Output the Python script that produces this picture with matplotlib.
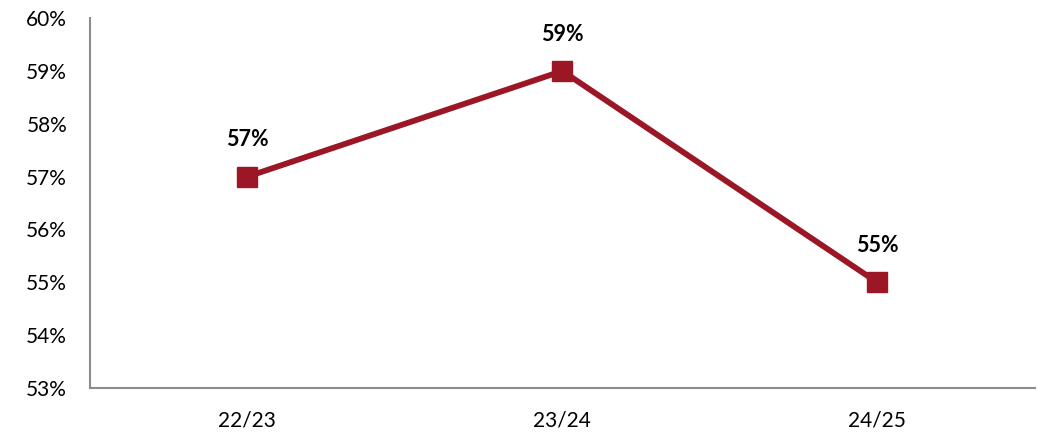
import matplotlib.pyplot as plt
from matplotlib.ticker import FuncFormatter

seasons = ["22/23", "23/24", "24/25"]
share = [57, 59, 55]
y_ticks = [53, 54, 55, 56, 57, 58, 59, 60]

LINE_COLOR = "#9B1726"
AXIS_COLOR = "#8C8C8C"

plt.rcParams["font.family"] = ["Lato", "DejaVu Sans"]


def main():
    fig = plt.figure(figsize=(10.38, 4.33), dpi=100)
    ax = fig.add_axes([0.0867, 0.104, 0.910, 0.854])

    x = list(range(len(seasons)))
    ax.plot(x, share, color=LINE_COLOR, linewidth=4.2, marker="s",
            markersize=15, markerfacecolor=LINE_COLOR,
            markeredgecolor=LINE_COLOR, solid_joinstyle="miter")

    for xi, v in zip(x, share):
        ax.annotate(f"{v}%", (xi, v), xytext=(0, 19),
                    textcoords="offset points", ha="center", va="bottom",
                    fontsize=15.5, fontweight="bold", color="black")

    ax.set_xlim(-0.5, 2.5)
    ax.set_ylim(53, 60)
    ax.set_xticks(x)
    ax.set_xticklabels(seasons)
    ax.set_yticks(y_ticks)
    ax.yaxis.set_major_formatter(FuncFormatter(lambda v, _: f"{v:.0f}%"))

    for side in ("top", "right"):
        ax.spines[side].set_visible(False)
    for side in ("left", "bottom"):
        ax.spines[side].set_color(AXIS_COLOR)
        ax.spines[side].set_linewidth(1.5)

    ax.tick_params(axis="both", length=0, labelsize=15, colors="black")
    ax.tick_params(axis="x", pad=16)
    ax.tick_params(axis="y", pad=16.5)

    fig.savefig("out.png", dpi=100)


if __name__ == "__main__":
    main()
